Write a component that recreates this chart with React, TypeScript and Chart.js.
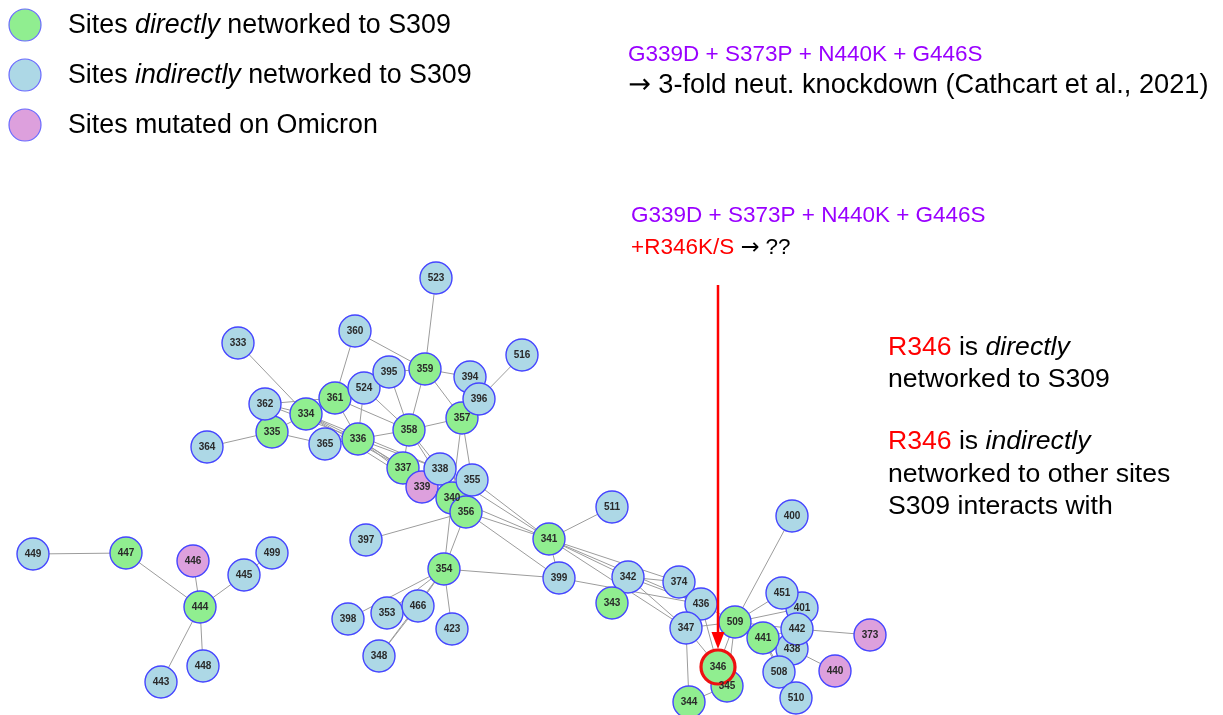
import React, { useEffect, useRef } from "react";
import { Chart, registerables } from "chart.js";
Chart.register(...registerables);

// ---- data: sites (draw order), their layout coordinates, and groups ----
const siteIds = [
  449, 447, 446, 499, 445, 444, 448, 443,
  523, 360, 333, 516, 359, 361, 524, 395, 335, 362, 334, 364, 365, 336, 358, 357, 394, 396, 337, 339, 338, 340, 355, 356,
  511, 341, 397, 354, 399, 342, 343, 374, 398, 353, 466, 423, 348,
  400, 436, 347, 344, 345, 438, 441, 509, 401, 451, 442, 373, 508, 440, 510, 346,
];
const siteX = [
  33, 126, 193, 272, 244, 200, 203, 161,
  436, 355, 238, 522, 425, 335, 364, 389, 272, 265, 306, 207, 325, 358, 409, 462, 470, 479, 403, 422, 440, 452, 472, 466,
  612, 549, 366, 444, 559, 628, 612, 679, 348, 387, 418, 452, 379,
  792, 701, 686, 689, 727, 792, 763, 735, 802, 782, 797, 870, 779, 835, 796, 718,
];
const siteY = [
  554, 553, 561, 553, 575, 607, 666, 682,
  278, 331, 343, 355, 369, 398, 388, 372, 432, 404, 414, 447, 444, 439, 430, 418, 377, 399, 468, 487, 469, 498, 480, 512,
  507, 539, 540, 569, 578, 577, 603, 582, 619, 613, 606, 629, 656,
  516, 604, 628, 702, 686, 649, 638, 622, 608, 593, 629, 635, 672, 671, 698, 667,
];
const directSites = [447, 444, 359, 361, 334, 335, 336, 358, 357, 337, 340, 356, 341, 354, 343, 509, 441, 346, 345, 344];
const omicronSites = [446, 339, 373, 440];
const highlightedSite = 346;

const edges: [number, number][] = [
  [449, 447], [447, 444], [446, 444], [445, 444], [499, 445], [444, 443], [444, 448],
  [523, 359], [360, 359], [360, 361], [333, 334], [362, 334], [362, 361], [362, 336], [335, 364], [335, 334], [335, 365],
  [334, 361], [334, 336], [334, 337], [334, 338], [334, 339], [361, 336], [361, 358], [524, 336], [524, 358], [395, 358],
  [395, 359], [359, 358], [359, 357], [359, 394], [358, 357], [358, 336], [358, 337], [358, 338], [358, 340], [357, 355],
  [357, 340], [396, 516], [357, 396], [336, 337], [336, 338], [336, 339], [336, 340], [336, 365], [355, 341], [356, 341],
  [340, 341], [338, 341], [356, 397], [356, 354], [340, 354], [356, 399], [341, 511], [341, 399], [341, 342], [341, 374],
  [341, 436], [341, 347], [354, 399], [354, 398], [354, 353], [354, 466], [354, 348], [354, 423], [466, 348], [399, 436],
  [342, 374], [342, 436], [342, 347], [374, 436], [347, 509], [347, 346], [347, 344], [436, 509], [509, 400], [509, 451],
  [509, 401], [509, 442], [509, 441], [509, 346], [509, 345], [346, 345], [345, 344], [441, 442], [441, 438], [441, 508],
  [441, 510], [442, 373], [438, 440], [442, 401], [451, 401], [509, 438], [436, 346],
];

const legendLabels = [
  [{ t: "Sites " }, { t: "directly", i: true }, { t: " networked to S309" }],
  [{ t: "Sites " }, { t: "indirectly", i: true }, { t: " networked to S309" }],
  [{ t: "Sites mutated on Omicron" }],
];

// ---- styles ----
const GREEN = "#90ee90";
const BLUE = "#add8e6";
const PINK = "#dda0dd";
const NODE_BORDER = "#4545ff";
const PURPLE = "#9900ff";
const RED = "#ff0000";
const FONT = '"Liberation Sans", Arial, Helvetica, sans-serif';
const ARROW_FONT = '"DejaVu Sans", sans-serif';

function groupColor(id: number) {
  if (directSites.includes(id)) return GREEN;
  if (omicronSites.includes(id)) return PINK;
  return BLUE;
}

type Seg = { t: string; i?: boolean; c?: string; f?: string };
function drawSegs(ctx: CanvasRenderingContext2D, x: number, y: number, segs: Seg[], size: number) {
  let cx = x;
  for (const s of segs) {
    ctx.font = `${s.i ? "italic " : ""}${size}px ${s.f || FONT}`;
    ctx.fillStyle = s.c || "#000";
    ctx.fillText(s.t, cx, y);
    cx += ctx.measureText(s.t).width;
  }
}

const networkPlugin = {
  id: "network",
  beforeDatasetsDraw(chart: any) {
    const ctx: CanvasRenderingContext2D = chart.ctx;
    const xs = chart.scales.x;
    const ys = chart.scales.y;
    ctx.save();
    ctx.strokeStyle = "#9c9c9c";
    ctx.lineWidth = 1;
    for (const [a, b] of edges) {
      const ia = siteIds.indexOf(a);
      const ib = siteIds.indexOf(b);
      if (ia < 0 || ib < 0) continue;
      ctx.beginPath();
      ctx.moveTo(xs.getPixelForValue(siteX[ia]), ys.getPixelForValue(siteY[ia]));
      ctx.lineTo(xs.getPixelForValue(siteX[ib]), ys.getPixelForValue(siteY[ib]));
      ctx.stroke();
    }
    ctx.restore();
  },
  afterDatasetsDraw(chart: any) {
    const ctx: CanvasRenderingContext2D = chart.ctx;
    const xs = chart.scales.x;
    const ys = chart.scales.y;
    ctx.save();
    // node labels
    ctx.textAlign = "center";
    ctx.textBaseline = "middle";
    ctx.font = `bold 10px ${FONT}`;
    ctx.fillStyle = "#2a2a2a";
    siteIds.forEach((id, i) => {
      ctx.fillText(String(id), xs.getPixelForValue(siteX[i]), ys.getPixelForValue(siteY[i]) + 0.5);
    });

    // red arrow to highlighted site
    const hi = siteIds.indexOf(highlightedSite);
    const ax = xs.getPixelForValue(siteX[hi]);
    const tipY = ys.getPixelForValue(siteY[hi]) - 18;
    ctx.strokeStyle = RED;
    ctx.fillStyle = RED;
    ctx.lineWidth = 2.5;
    ctx.beginPath();
    ctx.moveTo(ax, 285);
    ctx.lineTo(ax, tipY - 14);
    ctx.stroke();
    ctx.beginPath();
    ctx.moveTo(ax - 6.5, tipY - 17);
    ctx.lineTo(ax + 6.5, tipY - 17);
    ctx.lineTo(ax, tipY);
    ctx.closePath();
    ctx.fill();

    // legend
    ctx.textAlign = "left";
    ctx.textBaseline = "alphabetic";
    const legColors = [GREEN, BLUE, PINK];
    legendLabels.forEach((segs, k) => {
      const cy = 25 + k * 50;
      ctx.beginPath();
      ctx.arc(25, cy, 16, 0, Math.PI * 2);
      ctx.fillStyle = legColors[k];
      ctx.fill();
      ctx.lineWidth = 1.2;
      ctx.strokeStyle = "#6a6aff";
      ctx.stroke();
      drawSegs(ctx, 68, cy + 8, segs, 26.8);
    });

    // top-right annotations
    drawSegs(ctx, 628, 61, [{ t: "G339D + S373P + N440K + G446S", c: PURPLE }], 22.5);
    drawSegs(ctx, 628, 93, [{ t: "\u2192", f: ARROW_FONT }, { t: " 3-fold neut. knockdown (Cathcart et al., 2021)" }], 27.2);
    drawSegs(ctx, 631, 222, [{ t: "G339D + S373P + N440K + G446S", c: PURPLE }], 22.5);
    drawSegs(ctx, 631, 254, [{ t: "+R346K/S", c: RED }, { t: " " }, { t: "\u2192", f: ARROW_FONT }, { t: " ??" }], 22.5);

    // right annotations
    drawSegs(ctx, 888, 355, [{ t: "R346", c: RED }, { t: " is " }, { t: "directly", i: true }], 26.6);
    drawSegs(ctx, 888, 387, [{ t: "networked to S309" }], 26.6);
    drawSegs(ctx, 888, 449, [{ t: "R346", c: RED }, { t: " is " }, { t: "indirectly", i: true }], 26.6);
    drawSegs(ctx, 888, 482, [{ t: "networked to other sites" }], 26.6);
    drawSegs(ctx, 888, 514, [{ t: "S309 interacts with" }], 26.6);
    ctx.restore();
  },
};

export default function App() {
  const ref = useRef<HTMLCanvasElement | null>(null);
  useEffect(() => {
    if (!ref.current) return;
    const points = siteIds.map((id, i) => ({ x: siteX[i], y: siteY[i], id }));
    const chart = new Chart(ref.current, {
      type: "scatter",
      data: {
        datasets: [
          {
            label: "Sites",
            data: points,
            clip: false,
            pointRadius: (c: any) => (siteIds[c.dataIndex] === highlightedSite ? 17 : 16),
            pointHoverRadius: (c: any) => (siteIds[c.dataIndex] === highlightedSite ? 17 : 16),
            pointBackgroundColor: (c: any) => groupColor(siteIds[c.dataIndex]),
            pointBorderColor: (c: any) => (siteIds[c.dataIndex] === highlightedSite ? "#ee1111" : NODE_BORDER),
            pointBorderWidth: (c: any) => (siteIds[c.dataIndex] === highlightedSite ? 3.2 : 1.4),
          } as any,
        ],
      },
      options: {
        animation: false,
        responsive: false,
        maintainAspectRatio: false,
        events: [],
        layout: { padding: 0, autoPadding: false },
        plugins: { legend: { display: false }, tooltip: { enabled: false }, title: { display: false } },
        scales: {
          x: { type: "linear", min: 0, max: 1223, display: false },
          y: { type: "linear", min: 0, max: 715, reverse: true, display: false },
        },
      },
      plugins: [networkPlugin],
    });
    return () => chart.destroy();
  }, []);
  return (
    <div style={{ position: "absolute", left: 0, top: 0, width: 1223, height: 715, background: "#fff" }}>
      <canvas ref={ref} width={1223} height={715} style={{ display: "block" }} />
    </div>
  );
}
